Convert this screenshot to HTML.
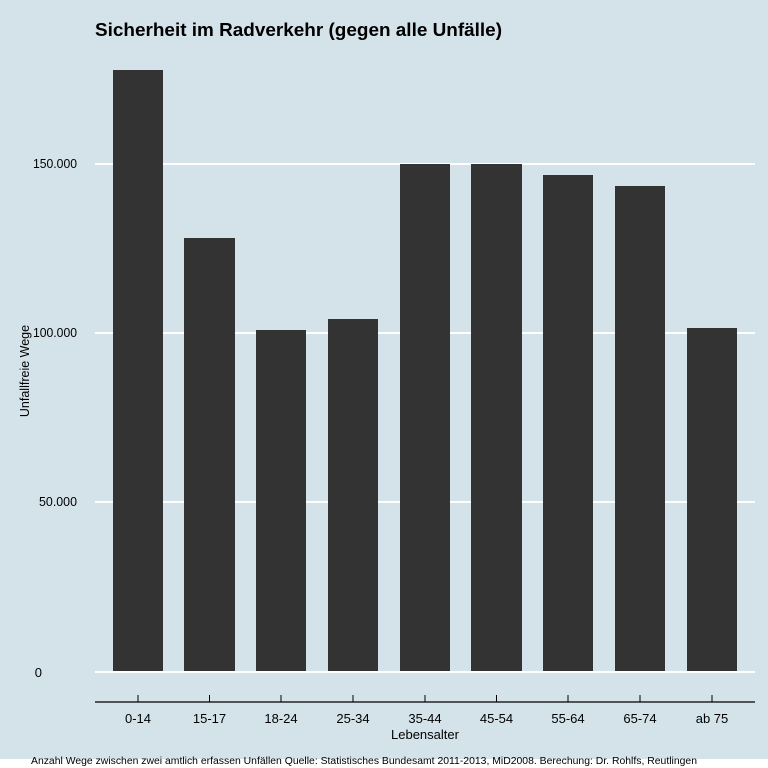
<!DOCTYPE html>
<html><head><meta charset="utf-8"><style>
body{margin:0;background:#fff}
svg{display:block;font-family:"Liberation Sans",sans-serif}
</style></head><body>
<svg width="768" height="768" xmlns="http://www.w3.org/2000/svg">
<rect x="0" y="0" width="768" height="759" fill="#d4e3ea"/>
<text x="95" y="36" font-size="18" font-weight="bold" fill="#000" textLength="407" lengthAdjust="spacingAndGlyphs">Sicherheit im Radverkehr (gegen alle Unfälle)</text>
<g stroke="#fff" stroke-width="2">
<line x1="95" x2="755" y1="164" y2="164"/>
<line x1="95" x2="755" y1="333" y2="333"/>
<line x1="95" x2="755" y1="502" y2="502"/>
<line x1="95" x2="755" y1="672" y2="672"/>
</g>
<g font-size="13" fill="#000" text-anchor="end">
<text x="77" y="168" textLength="44" lengthAdjust="spacingAndGlyphs">150.000</text>
<text x="77" y="337" textLength="44" lengthAdjust="spacingAndGlyphs">100.000</text>
<text x="77" y="506" textLength="38" lengthAdjust="spacingAndGlyphs">50.000</text>
<text x="42" y="677">0</text>
</g>
<text transform="translate(29,371) rotate(-90)" font-size="12.5" text-anchor="middle">Unfallfreie Wege</text>
<g fill="#333">
<rect x="113" y="70" width="50" height="601"/>
<rect x="184" y="238" width="51" height="433"/>
<rect x="256" y="330" width="50" height="341"/>
<rect x="328" y="319" width="50" height="352"/>
<rect x="400" y="164" width="50" height="507"/>
<rect x="471" y="164" width="51" height="507"/>
<rect x="543" y="175" width="50" height="496"/>
<rect x="615" y="186" width="50" height="485"/>
<rect x="687" y="328" width="50" height="343"/>
</g>
<line x1="95" x2="755" y1="702" y2="702" stroke="#000" stroke-width="1.2"/>
<g stroke="#000" stroke-width="1">
<line x1="138" x2="138" y1="695" y2="702"/>
<line x1="209.5" x2="209.5" y1="695" y2="702"/>
<line x1="281" x2="281" y1="695" y2="702"/>
<line x1="353" x2="353" y1="695" y2="702"/>
<line x1="425" x2="425" y1="695" y2="702"/>
<line x1="496.5" x2="496.5" y1="695" y2="702"/>
<line x1="568" x2="568" y1="695" y2="702"/>
<line x1="640" x2="640" y1="695" y2="702"/>
<line x1="712" x2="712" y1="695" y2="702"/>
</g>
<g font-size="13" text-anchor="middle" fill="#000">
<text x="138" y="723">0-14</text>
<text x="209.5" y="723">15-17</text>
<text x="281" y="723">18-24</text>
<text x="353" y="723">25-34</text>
<text x="425" y="723">35-44</text>
<text x="496.5" y="723">45-54</text>
<text x="568" y="723">55-64</text>
<text x="640" y="723">65-74</text>
<text x="712" y="723">ab 75</text>
<text x="425" y="739">Lebensalter</text>
</g>
<text x="31" y="764" font-size="10" fill="#000" textLength="666" lengthAdjust="spacingAndGlyphs">Anzahl Wege zwischen zwei amtlich erfassen Unfällen   Quelle: Statistisches Bundesamt 2011-2013, MiD2008. Berechung: Dr. Rohlfs, Reutlingen</text>
</svg>
</body></html>
